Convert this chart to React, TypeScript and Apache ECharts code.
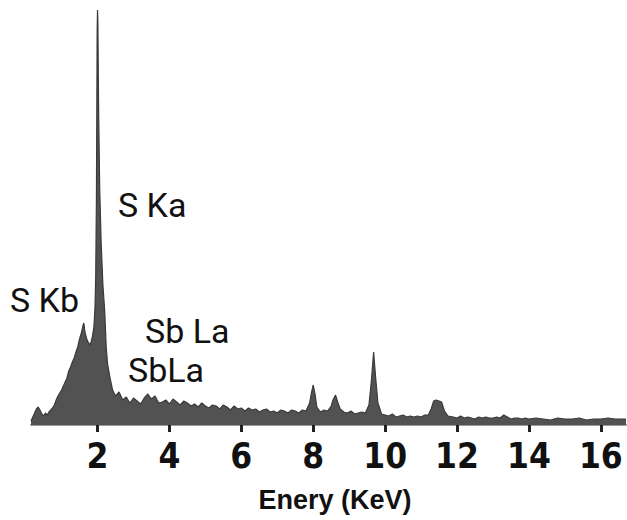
import React, { useEffect, useRef } from "react";
import * as echarts from "echarts";

// Energy (keV) and counts (arbitrary units)
const energy: number[] = [
  0.15, 0.2, 0.25, 0.3, 0.35, 0.4, 0.45, 0.5, 0.55, 0.6, 0.65, 0.7, 0.75, 0.8, 0.85, 0.9, 0.95,
  1.0, 1.05, 1.1, 1.15, 1.2, 1.25, 1.3, 1.35, 1.4, 1.45, 1.5, 1.55, 1.6, 1.62, 1.65, 1.7, 1.75,
  1.8, 1.85, 1.9, 1.93, 1.95, 1.97, 1.99, 2.0, 2.01, 2.03, 2.06, 2.1, 2.15, 2.2, 2.24, 2.28, 2.35,
  2.42, 2.5, 2.6, 2.7, 2.8, 2.9, 3.0, 3.1, 3.2, 3.3, 3.4, 3.5, 3.6, 3.7, 3.8, 3.9, 4.0, 4.1, 4.2,
  4.3, 4.4, 4.5, 4.6, 4.7, 4.8, 4.9, 5.0, 5.1, 5.2, 5.3, 5.4, 5.5, 5.6, 5.7, 5.8, 5.9, 6.0, 6.1,
  6.2, 6.3, 6.4, 6.5, 6.6, 6.7, 6.8, 6.9, 7.0, 7.1, 7.2, 7.3, 7.4, 7.5, 7.6, 7.7, 7.8, 7.9, 7.95,
  8.0, 8.05, 8.1, 8.2, 8.3, 8.4, 8.5, 8.55, 8.62, 8.68, 8.75, 8.85, 8.95, 9.05, 9.15, 9.25, 9.35,
  9.45, 9.55, 9.62, 9.68, 9.73, 9.8, 9.9, 10.0, 10.1, 10.2, 10.3, 10.4, 10.5, 10.6, 10.7, 10.8,
  10.9, 11.0, 11.1, 11.2, 11.28, 11.35, 11.42, 11.5, 11.57, 11.65, 11.75, 11.9, 12.0, 12.1, 12.2,
  12.3, 12.4, 12.5, 12.6, 12.7, 12.8, 12.9, 13.0, 13.1, 13.2, 13.3, 13.4, 13.5, 13.6, 13.7, 13.8,
  13.9, 14.0, 14.2, 14.4, 14.6, 14.8, 15.0, 15.2, 15.4, 15.6, 15.8, 16.0, 16.2, 16.4, 16.7,
];
const counts: number[] = [
  4, 8, 12, 16, 18, 15, 11, 9, 12, 10, 13, 15, 17, 20, 25, 29, 32,
  35, 39, 43, 47, 54, 58, 63, 67, 73, 78, 86, 92, 100, 102, 93, 86, 82,
  80, 87, 98, 118, 148, 228, 394, 415, 404, 318, 238, 184, 140, 114, 79, 61, 47,
  35, 29, 33, 25, 28, 22, 27, 24, 21, 27, 31, 26, 29, 22, 23, 25, 21, 26, 23,
  20, 24, 22, 19, 21, 18, 22, 19, 17, 20, 19, 16, 20, 18, 15, 19, 16, 17, 14,
  17, 15, 16, 13, 15, 16, 13, 14, 12, 15, 14, 12, 15, 14, 12, 15, 14, 22, 32,
  40, 31, 18, 13, 15, 14, 19, 25, 30, 23, 16, 13, 12, 14, 11, 12, 13,
  12, 20, 45, 73, 50, 22, 11, 10, 9, 11, 8, 9, 10, 8, 9, 8,
  9, 8, 10, 10, 16, 24, 25, 24, 23, 14, 9, 8, 7, 9, 7,
  8, 7, 6, 8, 7, 8, 7, 7, 8, 7, 10, 8, 6, 7, 7, 6,
  7, 6, 7, 6, 5, 7, 6, 6, 7, 5, 6, 6, 7, 6, 6,
];
const tickValues: number[] = [2, 4, 6, 8, 10, 12, 14, 16];
const xTitle = "Enery (KeV)";
const annotations: string[] = ["S Ka", "S Kb", "Sb La", "SbLa"];

export default function App() {
  const ref = useRef<HTMLDivElement>(null);
  useEffect(() => {
    if (!ref.current) return;
    const chart = echarts.init(ref.current, null, { renderer: "svg" });
    const data = energy.map((e, i) => [e, counts[i]]);
    const annPos = [
      [118, 205],
      [10, 300],
      [145, 331],
      [128, 370],
    ];
    chart.setOption({
      animation: false,
      backgroundColor: "#ffffff",
      grid: { left: 31, right: 1, top: 5, bottom: 92 },
      xAxis: {
        type: "value",
        min: 0.15,
        max: 16.7,
        axisLine: { show: true, lineStyle: { color: "#9a9a9a", width: 2 } },
        axisTick: {
          show: true,
          customValues: tickValues,
          length: 7,
          lineStyle: { color: "#222", width: 3 },
        },
        axisLabel: {
          customValues: tickValues,
          fontSize: 35,
          fontFamily: "'Liberation Sans Narrow', 'DejaVu Sans Condensed', sans-serif",
          fontWeight: "bold",
          color: "#111",
          margin: 10,
        },
        splitLine: { show: false },
      },
      yAxis: {
        type: "value",
        min: -3,
        max: 420,
        show: false,
        splitLine: { show: false },
      },
      series: [
        {
          type: "line",
          data,
          symbol: "none",
          lineStyle: { color: "#3a3a3a", width: 1.2 },
          areaStyle: { color: "#525252", opacity: 1, origin: 0 },
        },
      ],
      graphic: [
        ...annotations.map((t, i) => ({
          type: "text",
          x: annPos[i][0],
          y: annPos[i][1],
          style: {
            text: t,
            font: "34px Roboto, 'Liberation Sans', sans-serif",
            fill: "#111",
            textVerticalAlign: "middle",
          },
        })),
        {
          type: "text",
          x: 335,
          y: 500,
          style: {
            text: xTitle,
            font: "bold 27px 'Liberation Sans', Arial, sans-serif",
            fill: "#111",
            textAlign: "center",
            textVerticalAlign: "middle",
          },
        },
      ],
    });
    return () => chart.dispose();
  }, []);
  return <div ref={ref} style={{ width: 627, height: 520, position: "absolute", left: 0, top: 0 }} />;
}
